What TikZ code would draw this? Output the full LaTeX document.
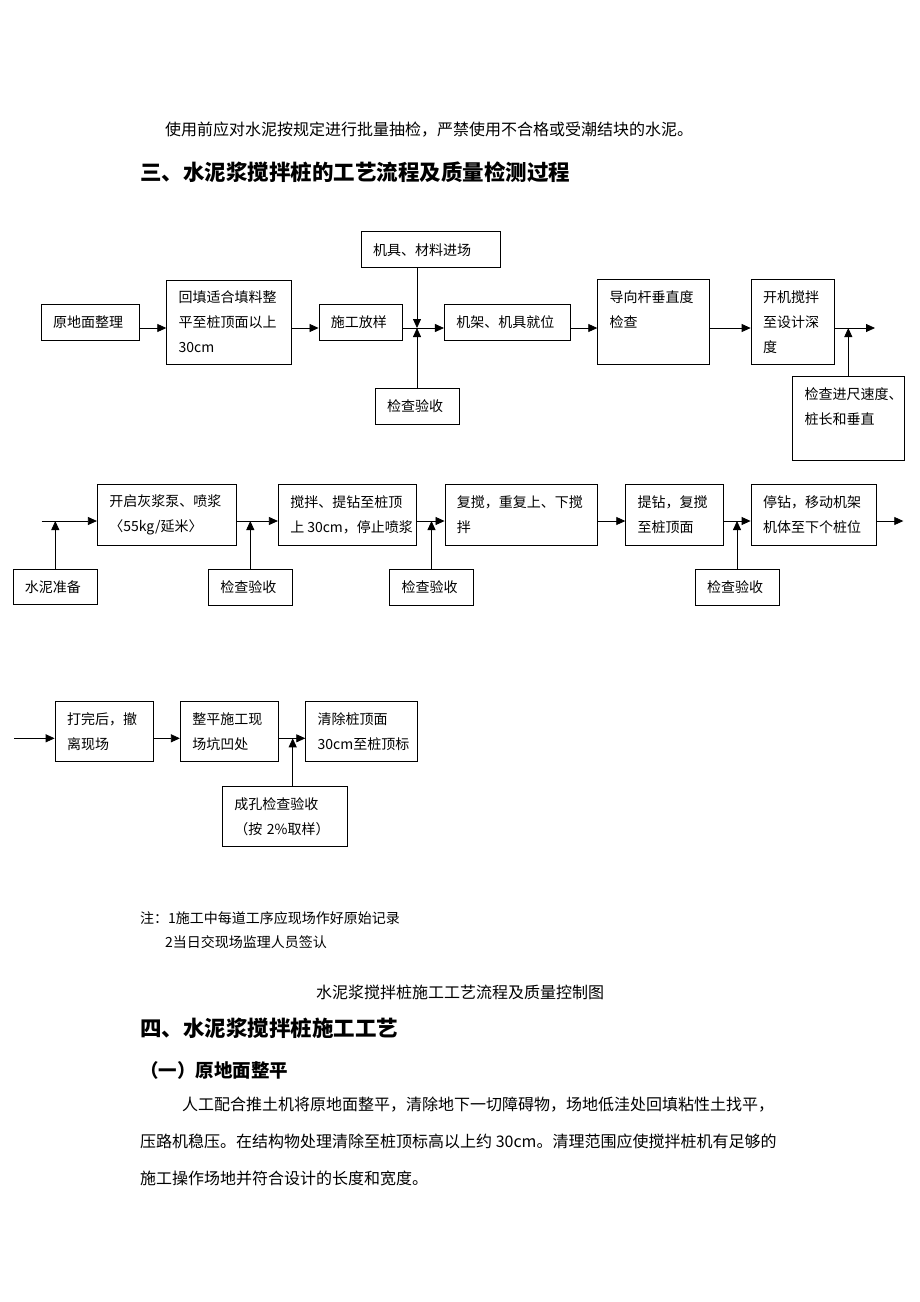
\documentclass[tikz,border=0pt]{standalone}
\usepackage{fontspec}
\setmainfont{Noto Sans CJK SC}
\usetikzlibrary{arrows.meta}

\begin{document}
\begin{tikzpicture}[x=1pt,y=-1pt,
  box/.style={draw,line width=0.8pt,inner xsep=12pt,inner ysep=0pt,align=left,font=\fontsize{14}{25}\selectfont},
  flow/.style={-{Triangle[length=9pt,width=8pt]},line width=0.8pt},
  txt/.style={anchor=west,inner sep=0pt,font=\fontsize{16}{16}\selectfont},
  note/.style={anchor=west,inner sep=0pt,font=\fontsize{14}{14}\selectfont},
  head/.style={anchor=west,inner sep=0pt,font=\fontsize{21.5}{21.5}\selectfont\bfseries}]
\path[use as bounding box,fill=white] (0,0) rectangle (920,1302);

\node[txt] (t0) at (165,130) {使用前应对水泥按规定进行批量抽检，严禁使用不合格或受潮结块的水泥。};
\node[head] (h3) at (140,172) {三、水泥浆搅拌桩的工艺流程及质量检测过程};

\node[box,text width=74pt,minimum height=36pt] (yuan) at (90,322) {原地面整理};
\node[box,text width=101pt,minimum height=84pt] (huitian) at (229.2,322) {回填适合填料整\\平至桩顶面以上\\30cm};
\node[box,text width=59.7pt,minimum height=36pt] (fangyang) at (360.8,322) {施工放样};
\node[box,text width=115pt,minimum height=36pt] (jinchang) at (430.5,249.7) {机具、材料进场};
\node[box,text width=60pt,minimum height=36pt] (jiancha1) at (417,406) {检查验收};
\node[box,text width=101.7pt,minimum height=36pt] (jiuwei) at (507.2,322) {机架、机具就位};
\node[box,text width=87.6pt,minimum height=84.7pt] (daoxiang) at (653.5,321.7) {导向杆垂直度\\检查\\\mbox{}};
\node[box,text width=59.3pt,minimum height=84.7pt] (kaiji) at (792.7,321.7) {开机搅拌\\至设计深\\度};
\node[box,text width=87.3pt,minimum height=84pt] (jinchi) at (848.3,418.7) {检查进尺速度、\\桩长和垂直\\\mbox{}};
\coordinate (r1) at (0,328);
\coordinate (j1) at (417,328);
\coordinate (j2) at (848.3,328);
\coordinate (e1) at (875,328);
\draw[flow] (yuan.east |- r1) -- (huitian.west |- r1);
\draw[flow] (huitian.east |- r1) -- (fangyang.west |- r1);
\draw[flow] (fangyang.east |- r1) -- (jiuwei.west |- r1);
\draw[flow] (jinchang.south -| j1) -- (j1);
\draw[flow] (jiancha1.north) -- (j1);
\draw[flow] (jiuwei.east |- r1) -- (daoxiang.west |- r1);
\draw[flow] (daoxiang.east |- r1) -- (kaiji.west |- r1);
\draw[flow] (kaiji.east |- r1) -- (e1);
\draw[flow] (jinchi.north) -- (j2);

\node[box,text width=60.7pt,minimum height=35.7pt] (shuini) at (55.3,587) {水泥准备};
\node[box,text width=115.4pt,minimum height=60.7pt] (kaiqi) at (167,514.7) {开启灰浆泵、喷浆\\〈55kg/延米〉};
\node[box,text width=60pt,minimum height=36pt] (jiancha2) at (250.3,587) {检查验收};
\node[box,text width=114.4pt,minimum height=60.7pt] (tizuan) at (347.5,514.7) {搅拌、提钻至桩顶\\\mbox{上\hspace{3pt}30cm，停止喷浆}};
\node[box,text width=60pt,minimum height=36pt] (jiancha3) at (431.5,587) {检查验收};
\node[box,text width=128.7pt,minimum height=60.7pt] (fujiao) at (521.3,514.7) {复搅，重复上、下搅\\拌};
\node[box,text width=73.6pt,minimum height=60.7pt] (tizuanb) at (674.5,514.7) {提钻，复搅\\至桩顶面};
\node[box,text width=60pt,minimum height=36pt] (jiancha4) at (737,587) {检查验收};
\node[box,text width=101pt,minimum height=60.7pt] (tingzuan) at (813.5,514.7) {停钻，移动机架\\机体至下个桩位};
\coordinate (s2) at (41.7,521);
\coordinate (e2) at (903.3,521);
\draw[flow] (s2) -- (kaiqi.west |- s2);
\draw[flow] (shuini.north) -- (shuini.north |- s2);
\draw[flow] (kaiqi.east |- s2) -- (tizuan.west |- s2);
\draw[flow] (jiancha2.north) -- (jiancha2.north |- s2);
\draw[flow] (tizuan.east |- s2) -- (fujiao.west |- s2);
\draw[flow] (jiancha3.north) -- (jiancha3.north |- s2);
\draw[flow] (fujiao.east |- s2) -- (tizuanb.west |- s2);
\draw[flow] (tizuanb.east |- s2) -- (tingzuan.west |- s2);
\draw[flow] (jiancha4.north) -- (jiancha4.north |- s2);
\draw[flow] (tingzuan.east |- s2) -- (e2);

\node[box,text width=74.3pt,minimum height=60pt] (dawan) at (104.2,731.7) {打完后，撤\\离现场};
\node[box,text width=74pt,minimum height=60pt] (zhengping) at (229.3,731.7) {整平施工现\\场坑凹处};
\node[box,text width=87.6pt,minimum height=60pt] (qingchu) at (361.5,731.7) {清除桩顶面\\30cm至桩顶标};
\node[box,text width=101.4pt,minimum height=60.7pt] (chengkong) at (285,816.3) {成孔检查验收\\（按 2\%取样）};
\coordinate (s3) at (14,738.3);
\coordinate (j3) at (292.7,738.3);
\draw[flow] (s3) -- (dawan.west |- s3);
\draw[flow] (dawan.east |- s3) -- (zhengping.west |- s3);
\draw[flow] (zhengping.east |- s3) -- (qingchu.west |- s3);
\draw[flow] (chengkong.north -| j3) -- (j3);

\node[note] (n1) at (140,918) {注：1施工中每道工序应现场作好原始记录};
\node[note] (n2) at (165,942) {2当日交现场监理人员签认};
\node[inner sep=0pt,font=\fontsize{16}{16}\selectfont] (cap) at (460,992) {水泥浆搅拌桩施工工艺流程及质量控制图};
\node[head] (h4) at (140,1028) {四、水泥浆搅拌桩施工工艺};
\node[head,font=\fontsize{18.5}{18.5}\selectfont\bfseries] (h41) at (140,1070) {（一）原地面整平};
\node[txt] (p1) at (182,1105) {人工配合推土机将原地面整平，清除地下一切障碍物，场地低洼处回填粘性土找平，};
\node[txt] (p2) at (140,1141) {压路机稳压。在结构物处理清除至桩顶标高以上约 30cm。清理范围应使搅拌桩机有足够的};
\node[txt] (p3) at (140,1178) {施工操作场地并符合设计的长度和宽度。};
\end{tikzpicture}
\end{document}
